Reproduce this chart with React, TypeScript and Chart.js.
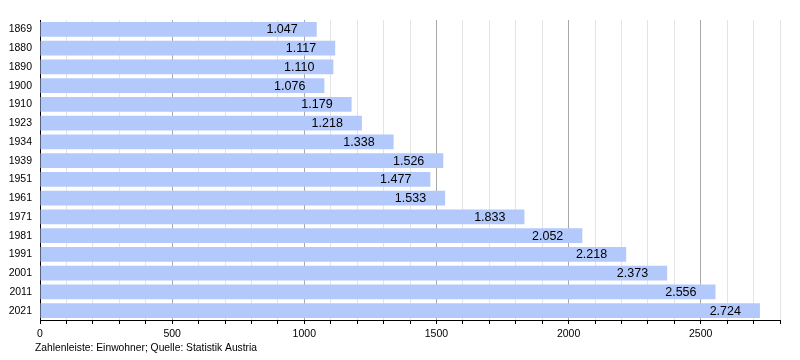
import React, { useEffect, useRef } from "react";
import { Chart, registerables } from "chart.js";

Chart.register(...registerables);

const years = ["1869", "1880", "1890", "1900", "1910", "1923", "1934", "1939", "1951", "1961", "1971", "1981", "1991", "2001", "2011", "2021"];
const population = [1047, 1117, 1110, 1076, 1179, 1218, 1338, 1526, 1477, 1533, 1833, 2052, 2218, 2373, 2556, 2724];
const xMax = 2800;
const footerText = "Zahlenleiste: Einwohner; Quelle: Statistik Austria";

const FONT = "'Liberation Sans', Arial, sans-serif";

const fmt = (v: number) => {
  const s = String(Math.round(v));
  return s.replace(/\B(?=(\d{3})+(?!\d))/g, ".");
};

const valueLabels = {
  id: "valueLabels",
  afterDatasetsDraw(chart: any) {
    const ctx = chart.ctx;
    const meta = chart.getDatasetMeta(0);
    ctx.save();
    ctx.font = `12.5px ${FONT}`;
    ctx.fillStyle = "#000";
    ctx.textAlign = "right";
    ctx.textBaseline = "middle";
    meta.data.forEach((bar: any, i: number) => {
      ctx.fillText(fmt(population[i]), bar.x - 19, bar.y + 0.5);
    });
    ctx.restore();
  },
};

const footer = {
  id: "footer",
  afterDraw(chart: any) {
    const ctx = chart.ctx;
    ctx.save();
    ctx.font = `10.3px ${FONT}`;
    ctx.fillStyle = "#000";
    ctx.textAlign = "left";
    ctx.textBaseline = "middle";
    ctx.fillText(footerText, 35, 348.5);
    ctx.restore();
  },
};

export default function App() {
  const ref = useRef<HTMLCanvasElement>(null);
  useEffect(() => {
    const chart = new Chart(ref.current!, {
      type: "bar",
      data: {
        labels: years,
        datasets: [
          {
            data: population,
            backgroundColor: "#b3c8fb",
            borderWidth: 0,
            barPercentage: 0.78,
            categoryPercentage: 1,
          },
        ],
      },
      options: {
        indexAxis: "y",
        animation: false,
        responsive: false,
        maintainAspectRatio: false,
        layout: { padding: { top: 20, right: 20, left: 0, bottom: 0 } },
        plugins: { legend: { display: false }, tooltip: { enabled: false } },
        scales: {
          x: {
            min: 0,
            max: xMax,
            afterFit(scale: any) {
              scale.height = 40;
            },
            ticks: {
              stepSize: 100,
              autoSkip: false,
              maxRotation: 0,
              padding: 4,
              color: "#000",
              font: { family: FONT, size: 10.5 },
              callback: (v: any) => (Number(v) % 500 === 0 ? String(v) : ""),
            },
            grid: {
              color: (c: any) => {
                const v = c.tick ? c.tick.value : 0;
                if (v === 0) return "#000";
                return v % 500 === 0 ? "#a8a8a8" : "#e4e4e4";
              },
              tickColor: "#000",
              tickLength: 4,
              drawTicks: true,
            },
            border: { color: "#000", width: 1 },
          },
          y: {
            afterFit(scale: any) {
              scale.width = 40;
            },
            ticks: {
              color: "#000",
              padding: 8,
              font: { family: FONT, size: 10.5 },
            },
            grid: { display: false, drawTicks: false },
            border: { color: "#000", width: 1 },
          },
        },
      },
      plugins: [valueLabels, footer],
    });
    return () => chart.destroy();
  }, []);
  return (
    <div style={{ position: "fixed", left: 0, top: 0, width: 800, height: 360, background: "#fff" }}>
      <canvas ref={ref} width={800} height={360} />
    </div>
  );
}
